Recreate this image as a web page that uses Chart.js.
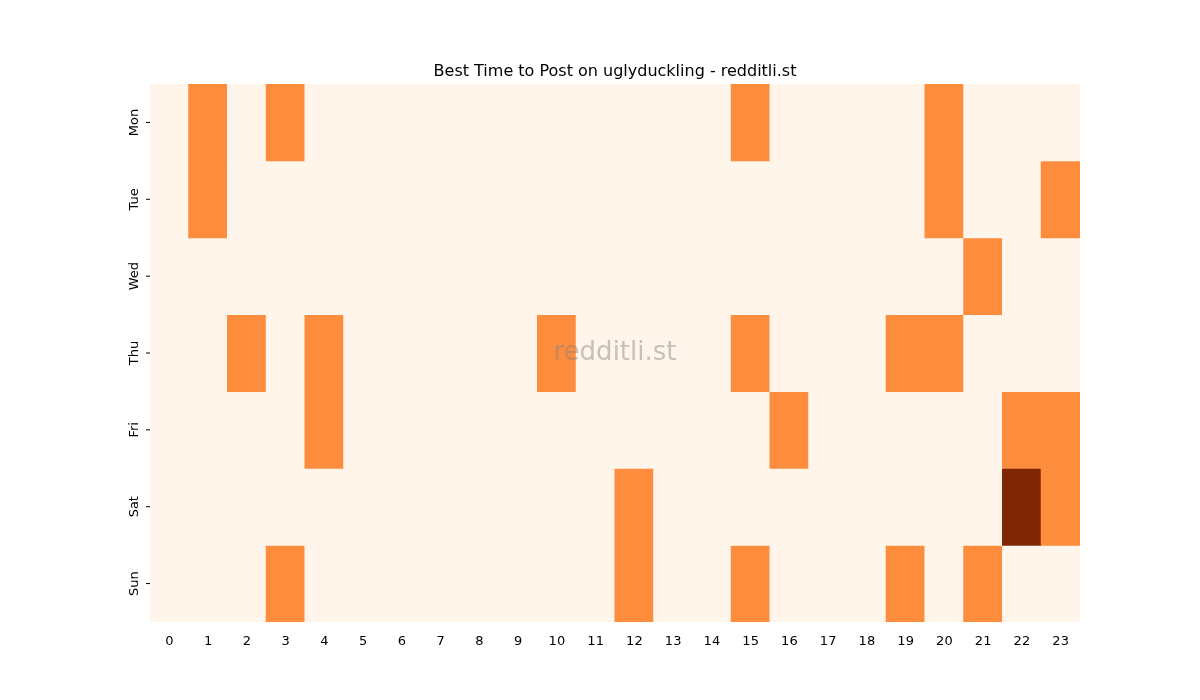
<!DOCTYPE html>
<html><head><meta charset="utf-8">
<script src="https://cdn.jsdelivr.net/npm/chart.js@4"></script>
<style>html,body{margin:0;padding:0;background:#fff}#c{display:block}</style>
</head><body>
<canvas id="c" width="1200" height="700"></canvas>
<script>
const hours = ["0","1","2","3","4","5","6","7","8","9","10","11","12","13","14","15","16","17","18","19","20","21","22","23"];
const days = ["Mon","Tue","Wed","Thu","Fri","Sat","Sun"];
const mon = [0,1,0,1,0,0,0,0,0,0,0,0,0,0,0,1,0,0,0,0,1,0,0,0];
const tue = [0,1,0,0,0,0,0,0,0,0,0,0,0,0,0,0,0,0,0,0,1,0,0,1];
const wed = [0,0,0,0,0,0,0,0,0,0,0,0,0,0,0,0,0,0,0,0,0,1,0,0];
const thu = [0,0,1,0,1,0,0,0,0,0,1,0,0,0,0,1,0,0,0,1,1,0,0,0];
const fri = [0,0,0,0,1,0,0,0,0,0,0,0,0,0,0,0,1,0,0,0,0,0,1,1];
const sat = [0,0,0,0,0,0,0,0,0,0,0,0,1,0,0,0,0,0,0,0,0,0,2,1];
const sun = [0,0,0,1,0,0,0,0,0,0,0,0,1,0,0,1,0,0,0,1,0,1,0,0];
const grid = [mon,tue,wed,thu,fri,sat,sun];
const palette = ["#fff5eb","#fd8d3c","#7f2704"];

const datasets = grid.map((row,i)=>({
  label: days[i],
  data: row.map(()=>1),
  backgroundColor: row.map(v=>palette[v]),
  borderWidth: 0, inflateAmount: 0.5,
  barPercentage: 1, categoryPercentage: 1
}));

const overlay = {
  id:'overlay',
  afterDraw(chart){
    const ctx = chart.ctx, a = chart.chartArea, y = chart.scales.y;
    ctx.save();
    ctx.fillStyle='#000';
    ctx.font='16px "DejaVu Sans"';
    ctx.textAlign='center'; ctx.textBaseline='alphabetic';
    ctx.fillText('Best Time to Post on uglyduckling - redditli.st',(a.left+a.right)/2,76);
    ctx.font='13px "DejaVu Sans"';
    days.forEach((d,i)=>{
      const py = y.getPixelForValue(i+0.5);
      ctx.beginPath(); ctx.moveTo(a.left,py); ctx.lineTo(a.left-4,py);
      ctx.strokeStyle='#000'; ctx.lineWidth=1; ctx.stroke();
      ctx.save(); ctx.translate(a.left-12,py); ctx.rotate(-Math.PI/2);
      ctx.textBaseline='alphabetic'; ctx.fillText(d,0,0); ctx.restore();
    });
    ctx.font='26px "DejaVu Sans"';
    ctx.fillStyle='rgba(128,128,128,0.45)';
    ctx.textBaseline='middle';
    ctx.fillText('redditli.st',(a.left+a.right)/2,(a.top+a.bottom)/2);
    ctx.restore();
  }
};

new Chart(document.getElementById('c'),{
  type:'bar',
  data:{labels:hours,datasets},
  plugins:[overlay],
  options:{
    responsive:false, animation:false,
    layout:{padding:{top:84,right:120,left:0,bottom:0}},
    plugins:{legend:{display:false},tooltip:{enabled:false},title:{display:false}},
    scales:{
      x:{stacked:true,grid:{display:false,drawTicks:true},border:{display:false},
         ticks:{color:'#000',font:{size:13,family:'DejaVu Sans'},maxRotation:0,autoSkip:false,padding:4},
         afterFit(s){s.height=78;}},
      y:{stacked:true,reverse:true,min:0,max:7,grid:{display:false},border:{display:false},
         ticks:{display:false},afterFit(s){s.width=150;}}
    }
  }
});
</script>
</body></html>
